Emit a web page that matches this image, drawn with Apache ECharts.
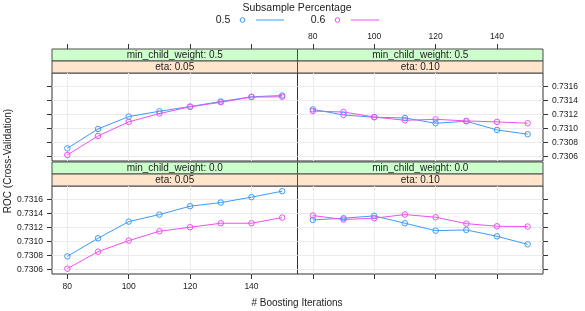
<!DOCTYPE html>
<html>
<head>
<meta charset="utf-8">
<script src="https://cdn.jsdelivr.net/npm/echarts@6/dist/echarts.min.js"></script>
<style>
  html, body { margin: 0; padding: 0; background: #fff; }
  #main { width: 585px; height: 311px; }
</style>
</head>
<body>
<div id="main"></div>
<script>
// data
const iterations = [80, 90, 100, 110, 120, 130, 140, 150];
const subsamples = ['0.5', '0.6'];
const xTicks = [80, 100, 120, 140];
const yTicks = [0.7306, 0.7308, 0.7310, 0.7312, 0.7314, 0.7316];

// min_child_weight 0.5, eta 0.05
const rocMcw05Eta005Ss05 = [0.730714, 0.730991, 0.731167, 0.731243, 0.731310, 0.731381, 0.731449, 0.731467];
const rocMcw05Eta005Ss06 = [0.730620, 0.730891, 0.731091, 0.731210, 0.731306, 0.731371, 0.731445, 0.731449];
// min_child_weight 0.5, eta 0.10
const rocMcw05Eta010Ss05 = [0.731270, 0.731190, 0.731157, 0.731147, 0.731072, 0.731100, 0.730977, 0.730916];
const rocMcw05Eta010Ss06 = [0.731246, 0.731232, 0.731161, 0.731114, 0.731128, 0.731105, 0.731091, 0.731072];
// min_child_weight 0.0, eta 0.05
const rocMcw00Eta005Ss05 = [0.730786, 0.731043, 0.731281, 0.731381, 0.731500, 0.731552, 0.731629, 0.731714];
const rocMcw00Eta005Ss06 = [0.730610, 0.730852, 0.731010, 0.731143, 0.731200, 0.731257, 0.731257, 0.731338];
// min_child_weight 0.0, eta 0.10
const rocMcw00Eta010Ss05 = [0.731305, 0.731329, 0.731362, 0.731257, 0.731152, 0.731162, 0.731071, 0.730957];
const rocMcw00Eta010Ss06 = [0.731367, 0.731310, 0.731329, 0.731381, 0.731343, 0.731252, 0.731214, 0.731210];

const colors = ['#3d9cf5', '#f04ff0'];
const font = '"Liberation Sans", Arial, Helvetica, sans-serif';

// panel layout
const colLeft = [52, 297.5];
const colWidth = 245.5;
const rowTop = [49, 162];     // top of the strips
const stripH = 12;
const plotH = 88;

let panels = [
    { row: 0, col: 0, mcw: '0.5', eta: '0.05', xLab: false, yLab: false, data: [rocMcw05Eta005Ss05, rocMcw05Eta005Ss06] },
    { row: 0, col: 1, mcw: '0.5', eta: '0.10', xLab: true,  yLab: true,  data: [rocMcw05Eta010Ss05, rocMcw05Eta010Ss06] },
    { row: 1, col: 0, mcw: '0.0', eta: '0.05', xLab: true,  yLab: true,  data: [rocMcw00Eta005Ss05, rocMcw00Eta005Ss06] },
    { row: 1, col: 1, mcw: '0.0', eta: '0.10', xLab: false, yLab: false, data: [rocMcw00Eta010Ss05, rocMcw00Eta010Ss06] }
];

let grids = [], xAxes = [], yAxes = [], series = [], graphics = [];

panels.forEach(function(p, i) {
    let top = rowTop[p.row];
    let left = colLeft[p.col];
    grids.push({
        left: left, top: top + 2 * stripH, width: colWidth, height: plotH,
        show: true, borderColor: '#333', borderWidth: 1
    });
    xAxes.push({
        gridIndex: i, type: 'value', min: 75, max: 155,
        position: p.row === 0 ? 'top' : 'bottom',
        offset: p.row === 0 ? 2 * stripH : 0,
        axisLine: { show: false },
        axisTick: { show: true, inside: false, length: 5, customValues: xTicks, lineStyle: { color: '#333' } },
        axisLabel: { show: p.xLab, customValues: xTicks, fontSize: 8.5, fontFamily: font, color: '#222', margin: 8 },
        splitLine: { show: true, lineStyle: { color: '#ebebeb', width: 1 } }
    });
    yAxes.push({
        gridIndex: i, type: 'value', min: 0.730534, max: 0.731788,
        position: p.col === 0 ? 'left' : 'right',
        axisLine: { show: false },
        axisTick: { show: true, inside: false, length: 5, customValues: yTicks, lineStyle: { color: '#333' } },
        axisLabel: {
            show: p.yLab, customValues: yTicks, fontSize: 8.5, fontFamily: font, color: '#222', margin: 9,
            formatter: function(v) { return v.toFixed(4); }
        },
        splitLine: { show: true, lineStyle: { color: '#ebebeb', width: 1 } }
    });
    p.data.forEach(function(values, k) {
        series.push({
            name: subsamples[k],
            type: 'line',
            xAxisIndex: i, yAxisIndex: i,
            data: iterations.map(function(it, j) { return [it, values[j]]; }),
            symbol: 'circle', symbolSize: 5.5,
            itemStyle: { color: 'rgba(255,255,255,0)', borderColor: colors[k], borderWidth: 1 },
            lineStyle: { color: colors[k], width: 1 }
        });
    });
    // strips
    graphics.push({
        type: 'rect', shape: { x: left, y: top, width: colWidth, height: stripH },
        style: { fill: '#ccffcc', stroke: '#4d4d4d', lineWidth: 1 }
    });
    graphics.push({
        type: 'rect', shape: { x: left, y: top + stripH, width: colWidth, height: stripH },
        style: { fill: '#ffe5cc', stroke: '#4d4d4d', lineWidth: 1 }
    });
    graphics.push({
        type: 'text', x: left + colWidth / 2, y: top + stripH / 2 + 0.5,
        style: { text: 'min_child_weight: ' + p.mcw, fontSize: 10, fontFamily: font, fill: '#222', align: 'center', verticalAlign: 'middle' }
    });
    graphics.push({
        type: 'text', x: left + colWidth / 2, y: top + stripH * 1.5 + 0.5,
        style: { text: 'eta: ' + p.eta, fontSize: 10, fontFamily: font, fill: '#222', align: 'center', verticalAlign: 'middle' }
    });
});

// legend, drawn by hand to get the lattice "key" look
graphics.push({
    type: 'text', x: 297, y: 8,
    style: { text: 'Subsample Percentage', fontSize: 10.5, fontFamily: font, fill: '#222', align: 'center', verticalAlign: 'middle' }
});
let keyX = [223, 318];
subsamples.forEach(function(s, k) {
    let x0 = keyX[k];
    graphics.push({
        type: 'text', x: x0, y: 20.5,
        style: { text: s, fontSize: 10.5, fontFamily: font, fill: '#222', align: 'center', verticalAlign: 'middle' }
    });
    graphics.push({
        type: 'circle', shape: { cx: x0 + 19.5, cy: 20, r: 2.3 },
        style: { fill: 'none', stroke: colors[k], lineWidth: 1 }
    });
    graphics.push({
        type: 'line', shape: { x1: x0 + 33, y1: 20, x2: x0 + 61, y2: 20 },
        style: { stroke: colors[k], lineWidth: 1 }
    });
});

// axis titles
graphics.push({
    type: 'text', x: 297, y: 303,
    style: { text: '# Boosting Iterations', fontSize: 10, fontFamily: font, fill: '#222', align: 'center', verticalAlign: 'middle' }
});
graphics.push({
    type: 'text', x: 8, y: 161, rotation: Math.PI / 2,
    style: { text: 'ROC (Cross-Validation)', fontSize: 10, fontFamily: font, fill: '#222', align: 'center', verticalAlign: 'middle' }
});

let myChart = echarts.init(document.getElementById('main'), null, { renderer: 'canvas' });
myChart.setOption({
    animation: false,
    backgroundColor: '#fff',
    grid: grids,
    xAxis: xAxes,
    yAxis: yAxes,
    series: series,
    graphic: graphics
});
</script>
</body>
</html>
